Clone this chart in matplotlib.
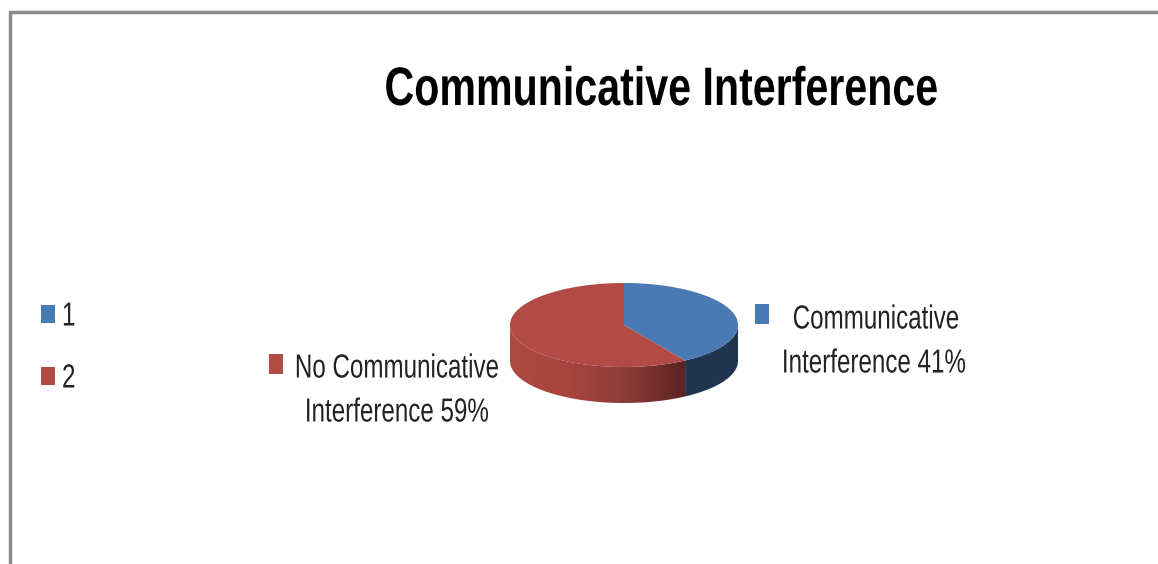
import numpy as np
import matplotlib
matplotlib.use("Agg")
import matplotlib.pyplot as plt
from matplotlib.colors import LinearSegmentedColormap
from matplotlib.patches import Polygon, Rectangle
from matplotlib.patheffects import AbstractPathEffect
from matplotlib.transforms import Affine2D

categories = ["Communicative Interference 41%", "No Communicative Interference 59%"]
shares = [41, 59]
legend_labels = ["1", "2"]
title = "Communicative Interference"

BLUE = "#4a7ab3"
RED = "#b24a46"
INK = "#222222"

plt.rcParams["font.family"] = ["Liberation Sans", "DejaVu Sans"]


class Squeeze(AbstractPathEffect):
    # narrows glyphs horizontally around a fixed x, no condensed font available
    def __init__(self, x0, sx):
        super().__init__()
        self.x0, self.sx = x0, sx

    def draw_path(self, renderer, gc, tpath, affine, rgbFace=None):
        squeeze = Affine2D().translate(-self.x0, 0).scale(self.sx, 1).translate(self.x0, 0)
        renderer.draw_path(gc, tpath, affine + squeeze, rgbFace)


def label(x, y, s, size=24, ha="center", weight="normal", color=INK, sx=0.725):
    ax.text(x, y, s, fontsize=size, fontweight=weight, ha=ha, va="center", color=color,
            path_effects=[Squeeze(x, sx)])


fig = plt.figure(figsize=(11.58, 5.64), dpi=100)
ax = fig.add_axes([0, 0, 1, 1])
ax.axis("off")

cx, cy, rx, ry = 624, 325, 114, 42
depth = 36


def rim(a0, a1, n=80):
    # points on the top ellipse, clockwise from 12 o'clock in degrees
    t = np.radians(np.linspace(a0, a1, n))
    return cx + rx * np.sin(t), cy - ry * np.cos(t)


split = shares[0] / sum(shares) * 360

# side wall of the blue slice
x, y = rim(90, split)
ax.add_patch(Polygon(np.r_[np.c_[x, y], np.c_[x[::-1], y[::-1] + depth]],
                     closed=True, fc="#1f3550", ec="none", zorder=2))

# side wall of the red slice, darkening towards the blue one
x, y = rim(split, 270)
wall = Polygon(np.r_[np.c_[x, y], np.c_[x[::-1], y[::-1] + depth]],
               closed=True, fc="none", ec="none", zorder=2)
ax.add_patch(wall)
cmap = LinearSegmentedColormap.from_list("wall", ["#ad4842", "#a8453f", "#8c3a36", "#5a2422"])
grad = ax.imshow(np.linspace(0, 1, 256)[None, :], extent=(x[-1], x[0], 410, 320),
                 cmap=cmap, aspect="auto", zorder=2)
grad.set_clip_path(wall)

# top faces
x, y = rim(0, split)
ax.add_patch(Polygon(np.r_[[[cx, cy]], np.c_[x, y]], closed=True, fc=BLUE, ec="none", zorder=3))
x, y = rim(split, 360)
ax.add_patch(Polygon(np.r_[[[cx, cy]], np.c_[x, y]], closed=True, fc=RED, ec="none", zorder=3))

ax.set_xlim(0, 1158)
ax.set_ylim(564, 0)

# outer frame, open on the right and bottom
ax.plot([10, 10, 1158], [564, 12, 12], color="#8a8a8a", lw=2.5, solid_capstyle="butt")

label(661, 91, title, size=39, weight="bold", color="black", sx=0.76)

# slice labels with their colour keys
ax.add_patch(Rectangle((755, 304), 14, 20, fc=BLUE, ec="none"))
label(876, 320, "Communicative")
label(874, 364, "Interference 41%")

ax.add_patch(Rectangle((269, 354), 14, 20, fc=RED, ec="none"))
label(397, 369, "No Communicative")
label(397, 413, "Interference 59%")

# series legend on the left
for name, col, yy in zip(legend_labels, [BLUE, RED], [314, 376]):
    ax.add_patch(Rectangle((41, yy - 9), 14, 18, fc=col, ec="none"))
    label(62, yy + 3, name, ha="left")

fig.savefig("out.png", dpi=100)
